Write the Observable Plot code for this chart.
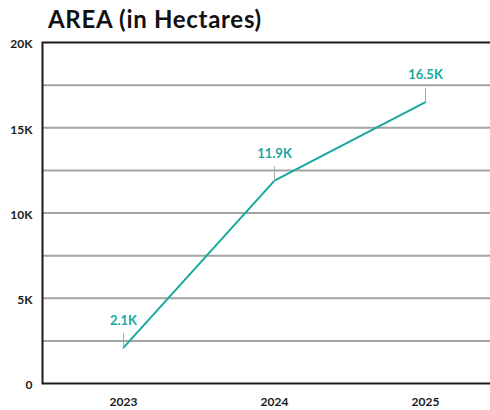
<!DOCTYPE html>
<html><head><meta charset="utf-8">
<script src="https://cdn.jsdelivr.net/npm/d3@7"></script>
<script src="https://cdn.jsdelivr.net/npm/@observablehq/plot@0.6"></script>
<style>
body{margin:0;background:#fff;width:490px;height:410px;overflow:hidden;font-family:Lato,sans-serif}
#title{height:30px;margin:0;padding-left:48px;font-family:Lato,sans-serif;font-weight:bold;font-size:24px;letter-spacing:0.7px;line-height:38px;color:#111;white-space:nowrap;overflow:visible}
#chart svg{display:block}
</style></head><body>
<div id="title">AREA (in Hectares)</div>
<div id="chart"></div>
<script>
const years = ["2023", "2024", "2025"];
const areas = [2100, 11900, 16500];
const valueLabels = ["2.1K", "11.9K", "16.5K"];
const yTicks = [0, 5000, 10000, 15000, 20000];
const gridValues = [2500, 5000, 7500, 10000, 12500, 15000, 17500];

const data = years.map((year, i) => ({year, area: areas[i], label: valueLabels[i]}));
const teal = "#17aa9c";
const leader = {draw(ctx, l) { ctx.moveTo(0, 0); ctx.lineTo(0, -l); }};

const chart = Plot.plot({
  width: 490, height: 380,
  marginLeft: 42, marginRight: -4, marginTop: 12, marginBottom: 27,
  style: {fontFamily: "Lato, sans-serif", fontWeight: "bold", fontSize: "12px", color: "#1a1a1a", background: "#fff", overflow: "visible"},
  x: {type: "point", domain: years, range: [122, 425], padding: 0, label: null},
  y: {domain: [0, 20000], label: null},
  marks: [
    Plot.gridY(gridValues, {stroke: "#a3a3a3", strokeOpacity: 1, strokeWidth: 2}),
    Plot.frame({stroke: "#1a1a1a", strokeWidth: 2}),
    Plot.axisY(yTicks, {tickSize: 0, tickPadding: 10, dy: 2, tickFormat: d => d === 0 ? "0" : d / 1000 + "K", fontSize: 12, label: null}),
    Plot.axisX({tickSize: 0, tickPadding: 14, fontSize: 12, label: null}),
    Plot.line(data, {x: "year", y: "area", stroke: teal, strokeWidth: 2}),
    Plot.vector(data, {x: "year", y: "area", length: 14, rotate: 0, anchor: "start", shape: leader, stroke: "#a8a8a8", strokeWidth: 1}),
    Plot.text(data, {x: "year", y: "area", text: "label", dy: -27, fill: teal, fontSize: 13, fontWeight: "bold"})
  ]
});
document.getElementById("chart").appendChild(chart);
</script>
</body></html>
